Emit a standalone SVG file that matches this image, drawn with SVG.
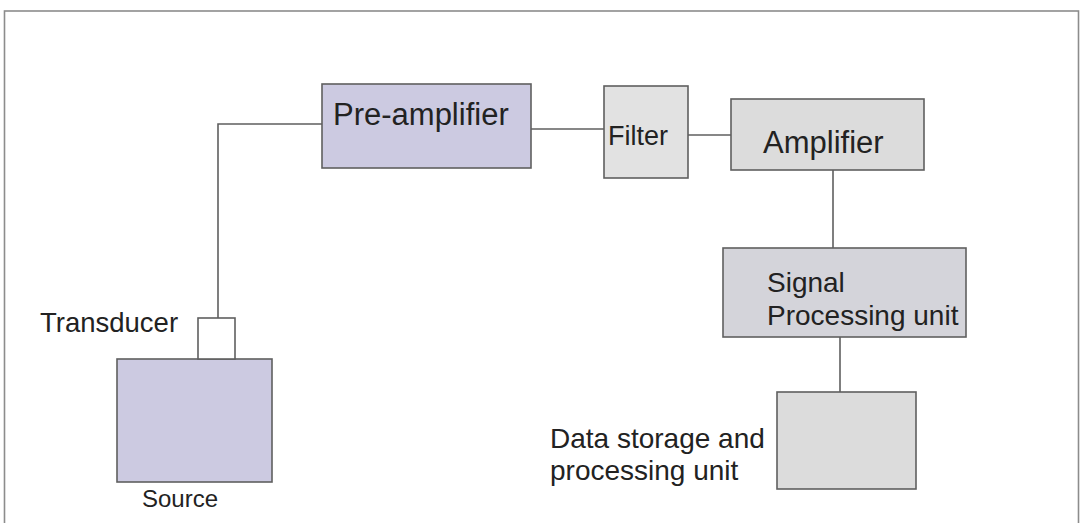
<svg xmlns="http://www.w3.org/2000/svg" width="1080" height="523" viewBox="0 0 1080 523">
  <style>
    .box { stroke: #5f5f5f; stroke-width: 1.6; }
    .lav { fill: #cccae1; }
    .gray { fill: #dcdcdc; }
    .light { fill: #e2e2e2; }
    .spu { fill: #d4d4da; }
    .wire { fill: none; stroke: #5f5f5f; stroke-width: 1.6; }
    .lbl { font-family: "Liberation Sans", Arial, sans-serif; fill: #222; }
  </style>
  <rect width="1080" height="523" fill="#ffffff"/>
  <!-- outer frame -->
  <rect x="4.5" y="11" width="1074" height="520" fill="none" stroke="#8c8c8c" stroke-width="1.6"/>

  <g id="connectors">
    <path class="wire" d="M218,318 V124 H322"/>
    <path class="wire" d="M531,129 H604"/>
    <path class="wire" d="M688,135 H731"/>
    <path class="wire" d="M833,170 V248"/>
    <path class="wire" d="M840,337 V392"/>
  </g>

  <g id="source">
    <rect class="box lav" x="117" y="359" width="155" height="123"/>
    <text class="lbl" x="142" y="507" font-size="24">Source</text>
  </g>

  <g id="transducer">
    <rect class="box" x="198" y="318" width="37" height="41" fill="#ffffff"/>
    <text class="lbl" x="40" y="332" font-size="27.5">Transducer</text>
  </g>

  <g id="preamplifier">
    <rect class="box lav" x="322" y="84" width="209" height="84"/>
    <text class="lbl" x="333" y="125" font-size="31">Pre-amplifier</text>
  </g>

  <g id="filter">
    <rect class="box light" x="604" y="86" width="84" height="92"/>
    <text class="lbl" x="608" y="145" font-size="27">Filter</text>
  </g>

  <g id="amplifier">
    <rect class="box gray" x="731" y="99" width="193" height="71"/>
    <text class="lbl" x="763" y="153" font-size="31">Amplifier</text>
  </g>

  <g id="signal-processing">
    <rect class="box spu" x="723" y="248" width="243" height="89"/>
    <text class="lbl" font-size="28">
      <tspan x="767" y="292">Signal</tspan>
      <tspan x="767" y="325">Processing unit</tspan>
    </text>
  </g>

  <g id="data-storage">
    <rect class="box gray" x="777" y="392" width="139" height="97"/>
    <text class="lbl" font-size="28">
      <tspan x="550" y="448">Data storage and</tspan>
      <tspan x="550" y="480">processing unit</tspan>
    </text>
  </g>
</svg>
